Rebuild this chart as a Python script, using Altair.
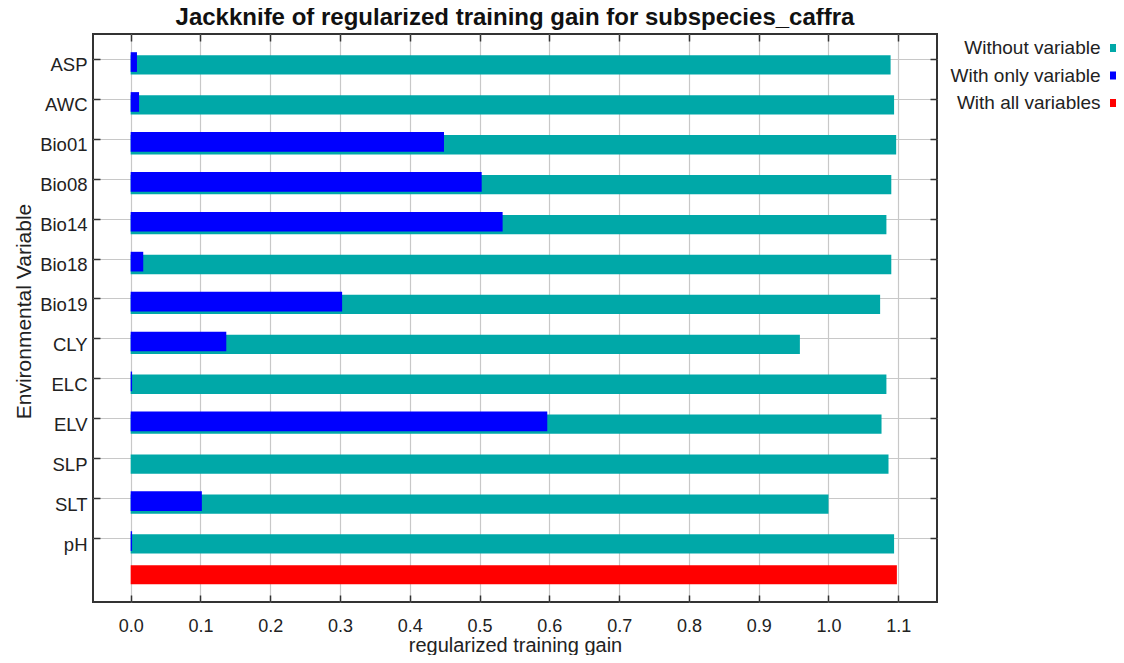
import json
import altair as alt
import pandas as pd

# ---- data ----
variables = ["ASP", "AWC", "Bio01", "Bio08", "Bio14", "Bio18", "Bio19",
             "CLY", "ELC", "ELV", "SLP", "SLT", "pH"]
without_variable = [1.089, 1.094, 1.097, 1.090, 1.083, 1.090, 1.074,
                    0.959, 1.083, 1.076, 1.086, 1.000, 1.094]
with_only_variable = [0.009, 0.012, 0.449, 0.503, 0.533, 0.018, 0.303,
                      0.137, 0.002, 0.597, 0.000, 0.102, 0.002]
with_all_variables = 1.098
series_names = ["Without variable", "With only variable", "With all variables"]
series_colors = ["#00A8A8", "#0000FF", "#FF0000"]
x_ticks = [0.0, 0.1, 0.2, 0.3, 0.4, 0.5, 0.6, 0.7, 0.8, 0.9, 1.0, 1.1]

rows = []
for i, (v, g) in enumerate(zip(variables, without_variable)):
    rows.append({"variable": v, "idx": i, "series": series_names[0], "gain": g})
for i, (v, g) in enumerate(zip(variables, with_only_variable)):
    rows.append({"variable": v, "idx": i, "series": series_names[1], "gain": g})
rows.append({"variable": "", "idx": len(variables), "series": series_names[2],
             "gain": with_all_variables})
df = pd.DataFrame(rows)

# bar extents relative to the row position (layout, not data)
band = {series_names[0]: (-0.093, 0.39),
        series_names[1]: (-0.17, 0.323),
        series_names[2]: (-0.316, 0.16)}


def band_expr(k):
    s0, s1, s2 = series_names
    return (f"datum.idx + (datum.series === '{s0}' ? {band[s0][k]} : "
            f"datum.series === '{s1}' ? {band[s1][k]} : {band[s2][k]})")


FONT = "Liberation Sans"
TXT = "#222222"
GRID = "#c8c8c8"

xscale = alt.Scale(domain=[-0.054, 1.1555], nice=False, zero=False)
yscale = alt.Scale(domain=[-0.626, 13.603], nice=False, zero=False, reverse=True)
yvals = list(range(len(variables)))
label_expr = json.dumps(variables) + "[datum.value]"

base = alt.Chart(df).transform_calculate(
    y0=band_expr(0), y1=band_expr(1), zero="0"
)

bars = base.mark_rect().encode(
    x=alt.X("gain:Q", scale=xscale,
            axis=alt.Axis(orient="bottom", values=x_ticks, format=".1f",
                          grid=True, gridColor=GRID, gridWidth=1.2,
                          ticks=False, tickSize=0, domain=False,
                          labelFont=FONT, labelFontSize=18, labelColor=TXT,
                          labelPadding=15,
                          title="regularized training gain", titleFont=FONT,
                          titleFontSize=20, titleFontWeight="normal",
                          titleColor=TXT, titleY=49, titleBaseline="alphabetic")),
    x2="zero:Q",
    y=alt.Y("y0:Q", scale=yscale,
            axis=alt.Axis(orient="left", values=yvals, labelExpr=label_expr,
                          grid=True, gridColor=GRID, gridWidth=1.2,
                          ticks=False, tickSize=0, domain=False,
                          labelFont=FONT, labelFontSize=18.5, labelColor=TXT,
                          labelPadding=6, labelOffset=6,
                          title="Environmental Variable", titleFont=FONT,
                          titleFontSize=21, titleFontWeight="normal",
                          titleColor=TXT, titleX=-63, titleY=277, titleAngle=270,
                          titleBaseline="alphabetic", titleAlign="center")),
    y2="y1:Q",
    color=alt.Color("series:N",
                    scale=alt.Scale(domain=series_names, range=series_colors),
                    legend=alt.Legend(title=None, orient="none",
                                      legendX=1011.5, legendY=4.5,
                                      labelAlign="right",
                                      labelOffset=alt.ExprRef("-23"),
                                      symbolType="square", symbolSize=64,
                                      symbolStrokeWidth=0,
                                      labelFont=FONT, labelFontSize=19,
                                      labelColor=TXT, rowPadding=7.5,
                                      padding=0)),
)


def tick_axis(orient, values):
    return alt.Axis(orient=orient, values=values, offset=-7, tickSize=7,
                    tickColor="#333333", tickWidth=1.5, labels=False,
                    domain=False, grid=False, title="")


ticks_tr = base.mark_rect(opacity=0).encode(
    x=alt.X("gain:Q", scale=xscale, axis=tick_axis("top", x_ticks)),
    x2="zero:Q",
    y=alt.Y("y0:Q", scale=yscale, axis=tick_axis("right", yvals)),
    y2="y1:Q",
)
ticks_bl = base.mark_rect(opacity=0).encode(
    x=alt.X("gain:Q", scale=xscale, axis=tick_axis("bottom", x_ticks)),
    x2="zero:Q",
    y=alt.Y("y0:Q", scale=yscale, axis=tick_axis("left", yvals)),
    y2="y1:Q",
)

chart = alt.layer(bars, ticks_tr, ticks_bl).resolve_axis(
    x="independent", y="independent"
).properties(
    width=844, height=568,
    autosize=alt.AutoSizeParams(type="none"),
    padding={"left": 85, "top": 26, "right": 179, "bottom": 53},
    title=alt.TitleParams(
        text="Jackknife of regularized training gain for subspecies_caffra",
        font=FONT, fontSize=24, fontWeight="bold", color="#111111",
        anchor="middle", frame="group", offset=3),
).configure_view(stroke="#333333", strokeWidth=2)

chart.save("out.html", embed_options={"renderer": "svg", "actions": False})
